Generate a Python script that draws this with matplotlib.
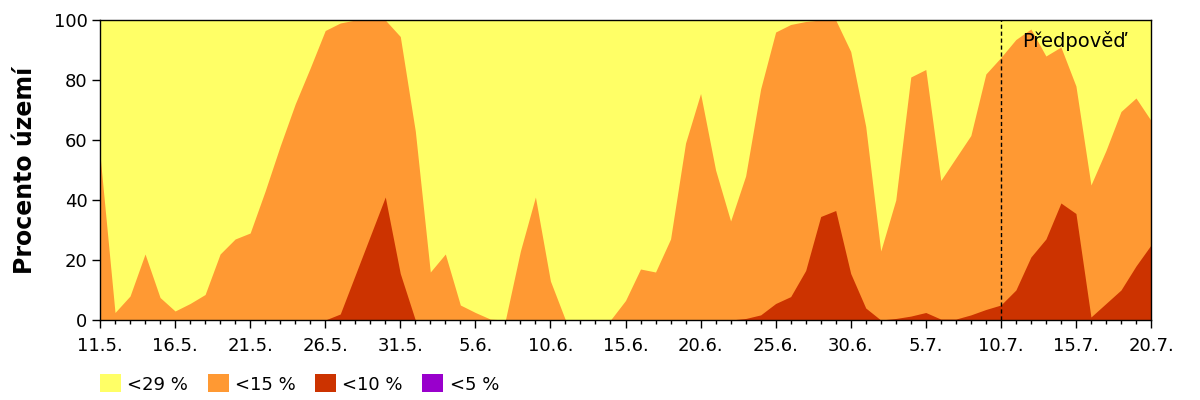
import numpy as np
import matplotlib.pyplot as plt
from matplotlib.patches import Patch

# daily values, 11.5. - 20.7. (71 days), percent of territory
tick_labels = ['11.5.', '16.5.', '21.5.', '26.5.', '31.5.', '5.6.', '10.6.', '15.6.',
               '20.6.', '25.6.', '30.6.', '5.7.', '10.7.', '15.7.', '20.7.']

below29 = [100] * 71

below15 = [55, 2.5, 8, 22, 7.5, 3, 5.5, 8.5, 22, 27,
           29, 43, 58, 72, 84, 96.5, 99, 100, 100, 100,
           94.5, 63, 16, 22, 5, 2.5, 0.3, 0, 23, 41,
           13, 0, 0, 0, 0, 6.5, 17, 16, 27, 59,
           75.5, 50, 33, 48, 77, 96, 98.5, 99.5, 100, 100,
           89.5, 64.5, 23, 40, 81, 83.5, 46.5, 54, 61.5, 82,
           87.5, 93.5, 97, 88, 91, 78, 45, 56.5, 69.5, 74,
           66.5]

below10 = [0, 0, 0, 0, 0, 0, 0, 0, 0, 0,
           0, 0, 0, 0, 0, 0, 2, 15, 28, 41,
           15.5, 0, 0, 0, 0, 0, 0, 0, 0, 0,
           0, 0, 0, 0, 0, 0, 0, 0, 0, 0,
           0, 0, 0, 0.5, 1.7, 5.5, 7.8, 16.5, 34.5, 36.5,
           15.5, 4, 0, 0.5, 1.3, 2.5, 0.3, 0.3, 1.7, 3.5,
           5, 10, 21, 27, 39, 35.5, 1, 5.5, 10, 18,
           25]

below5 = [0] * 71

forecast_start = 60  # 10.7.

colors = ['#FFFF66', '#FF9933', '#CC3300', '#9900CC']
labels = ['<29 %', '<15 %', '<10 %', '<5 %']

plt.rcParams['font.family'] = 'DejaVu Sans'

x = np.arange(len(below15))

fig = plt.figure(figsize=(12, 4), dpi=100)
ax = fig.add_axes([100/1200, 80/400, 1051/1200, 300/400])

for s, c in zip([below29, below15, below10, below5], colors):
    ax.fill_between(x, 0, s, color=c, linewidth=0)

ax.axvline(forecast_start, color='black', linestyle=(0, (3, 2)), linewidth=1)
ax.text(forecast_start + 1.4, 93, 'Předpověď', fontsize=14, ha='left', va='center')

ax.set_xlim(0, 70)
ax.set_ylim(0, 100)
ax.set_xticks(np.arange(0, 71, 5))
ax.set_xticklabels(tick_labels)
ax.set_xticks(x, minor=True)
ax.set_yticks(np.arange(0, 101, 20))
ax.tick_params(axis='both', which='major', direction='out', length=6, width=1,
               labelsize=13, colors='black')
ax.tick_params(axis='x', which='minor', direction='out', length=3, width=1)
ax.tick_params(axis='x', pad=6)
ax.tick_params(axis='y', pad=3)
for sp in ax.spines.values():
    sp.set_linewidth(1)

ax.set_ylabel('Procento území', fontsize=17, fontweight='bold', labelpad=12)

handles = [Patch(facecolor=c, edgecolor='none') for c in colors]
fig.legend(handles, labels, loc='center left', bbox_to_anchor=(100/1200, 1 - 384/400),
           ncol=4, frameon=False, fontsize=13, handlelength=1.16, handleheight=1.16,
           handletextpad=0.35, columnspacing=1.08, borderpad=0, borderaxespad=0)

fig.savefig('out.png', dpi=100)
plt.close(fig)
